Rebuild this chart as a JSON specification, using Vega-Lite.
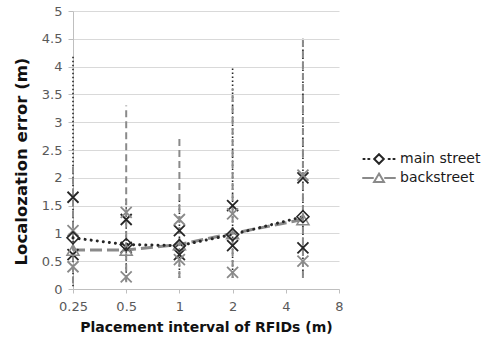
{
  "$schema": "https://vega.github.io/schema/vega-lite/v6.json",
  "autosize": {"type": "none"},
  "padding": {"left": 73, "top": 11, "right": 150, "bottom": 55},
  "width": 266,
  "height": 278,
  "background": "white",
  "config": {
    "font": "DejaVu Sans",
    "view": {"stroke": null},
    "axis": {"labelFont": "DejaVu Sans", "titleFont": "DejaVu Sans"},
    "axisY": {"labelOverlap": false, "labelFlush": false, "labelBound": false}
  },
  "data": {
    "values": [
      {"x": 0.25, "series": "main street", "mean": 0.92, "lo": 0.62, "hi": 1.65, "min": 0.05, "max": 4.2},
      {"x": 0.5, "series": "main street", "mean": 0.8, "lo": 0.75, "hi": 1.25, "min": 0.15, "max": 1.65},
      {"x": 1, "series": "main street", "mean": 0.78, "lo": 0.62, "hi": 1.05, "min": 0.2, "max": 1.6},
      {"x": 2, "series": "main street", "mean": 0.98, "lo": 0.78, "hi": 1.5, "min": 0.2, "max": 4.0},
      {"x": 5, "series": "main street", "mean": 1.3, "lo": 0.74, "hi": 2.0, "min": 0.25, "max": 4.5},
      {"x": 0.25, "series": "backstreet", "mean": 0.7, "lo": 0.4, "hi": 1.05, "min": 0.1, "max": 2.2},
      {"x": 0.5, "series": "backstreet", "mean": 0.7, "lo": 0.22, "hi": 1.38, "min": 0.12, "max": 3.3},
      {"x": 1, "series": "backstreet", "mean": 0.8, "lo": 0.53, "hi": 1.25, "min": 0.2, "max": 2.7},
      {"x": 2, "series": "backstreet", "mean": 1.0, "lo": 0.3, "hi": 1.35, "min": 0.2, "max": 3.6},
      {"x": 5, "series": "backstreet", "mean": 1.25, "lo": 0.5, "hi": 2.05, "min": 0.2, "max": 4.5}
    ]
  },
  "encoding": {
    "x": {
      "field": "x", "type": "quantitative",
      "scale": {"type": "log", "base": 2, "domain": [0.25, 8], "nice": false},
      "axis": {
        "values": [0.25, 0.5, 1, 2, 4, 8],
        "labelExpr": "datum.value + ''",
        "labelFlush": false, "labelOverlap": false,
        "grid": false,
        "domainColor": "#bfbfbf", "tickColor": "#bfbfbf", "tickSize": 4,
        "labelColor": "#595959", "labelFontSize": 13, "labelPadding": 7,
        "title": "Placement interval of RFIDs (m)",
        "titleFontSize": 14, "titleFontWeight": "bold", "titleColor": "#111111", "titlePadding": 7
      }
    },
    "y": {
      "field": "mean", "type": "quantitative",
      "scale": {"domain": [0, 5], "nice": false},
      "axis": {
        "values": [0, 0.5, 1, 1.5, 2, 2.5, 3, 3.5, 4, 4.5, 5],
        "format": "~g",
        "labelOverlap": false,
        "grid": true, "gridColor": "#d9d9d9",
        "domainColor": "#bfbfbf", "tickColor": "#bfbfbf", "tickSize": 5,
        "labelColor": "#595959", "labelFontSize": 13, "labelPadding": 6,
        "title": "Localozation error (m)",
        "titleFontSize": 16.5, "titleFontWeight": "bold", "titleColor": "#111111", "titlePadding": 12, "titleY": 150
      }
    },
    "color": {
      "field": "series", "type": "nominal",
      "scale": {"domain": ["main street", "backstreet"], "range": ["#262626", "#8a8a8a"]},
      "legend": {
        "orient": "none", "legendX": 297, "legendY": 139,
        "title": null, "symbolSize": 256, "labelOffset": 12,
        "labelFontSize": 14, "labelColor": "#1a1a1a", "labelFont": "DejaVu Sans",
        "rowPadding": 1, "padding": 0,
        "encode": {
          "symbols": {
            "update": {
              "shape": {"signal": "datum.value === 'main street' ? 'M-1.95,0L-1.8,0M-1.35,0L-1.2,0M1.2,0L1.35,0M1.8,0L1.95,0M0,-0.6L0.6,0L0,0.6L-0.6,0Z' : 'M-2,0L-0.75,0M0.75,0L2,0M0,-0.55L0.62,0.5L-0.62,0.5Z'"},
              "fill": {"value": "transparent"},
              "strokeWidth": {"value": 2},
              "strokeCap": {"value": "round"}
            }
          }
        }
      }
    }
  },
  "layer": [
    {
      "transform": [{"filter": "datum.series === 'main street'"}],
      "mark": {"type": "rule", "strokeWidth": 1.6, "strokeDash": [1.5, 2.5]},
      "encoding": {
        "y": {"field": "min", "type": "quantitative", "axis": {"values": [0, 0.5, 1, 1.5, 2, 2.5, 3, 3.5, 4, 4.5, 5], "format": "~g", "labelOverlap": false, "grid": true, "gridColor": "#d9d9d9", "domainColor": "#bfbfbf", "tickColor": "#bfbfbf", "tickSize": 5, "labelColor": "#595959", "labelFontSize": 13, "labelPadding": 6, "title": "Localozation error (m)", "titleFontSize": 16.5, "titleFontWeight": "bold", "titleColor": "#111111", "titlePadding": 12, "titleY": 150}},
        "y2": {"field": "max"}
      }
    },
    {
      "transform": [{"filter": "datum.series === 'backstreet'"}],
      "mark": {"type": "rule", "strokeWidth": 2, "strokeDash": [7, 4]},
      "encoding": {
        "y": {"field": "min", "type": "quantitative", "axis": {"values": [0, 0.5, 1, 1.5, 2, 2.5, 3, 3.5, 4, 4.5, 5], "format": "~g", "labelOverlap": false, "grid": true, "gridColor": "#d9d9d9", "domainColor": "#bfbfbf", "tickColor": "#bfbfbf", "tickSize": 5, "labelColor": "#595959", "labelFontSize": 13, "labelPadding": 6, "title": "Localozation error (m)", "titleFontSize": 16.5, "titleFontWeight": "bold", "titleColor": "#111111", "titlePadding": 12, "titleY": 150}},
        "y2": {"field": "max"}
      }
    },
    {
      "transform": [{"filter": "datum.series === 'backstreet'"}],
      "mark": {"type": "line", "strokeWidth": 3, "strokeDash": [12, 5]}
    },
    {
      "transform": [{"filter": "datum.series === 'main street'"}],
      "mark": {"type": "line", "strokeWidth": 3, "strokeCap": "round", "strokeDash": [0.1, 6]}
    },
    {
      "mark": {"type": "point", "shape": "M-1,-1L1,1M-1,1L1,-1", "filled": false, "size": 121, "strokeWidth": 1.8, "opacity": 1},
      "encoding": {"y": {"field": "lo", "type": "quantitative", "axis": {"values": [0, 0.5, 1, 1.5, 2, 2.5, 3, 3.5, 4, 4.5, 5], "format": "~g", "labelOverlap": false, "grid": true, "gridColor": "#d9d9d9", "domainColor": "#bfbfbf", "tickColor": "#bfbfbf", "tickSize": 5, "labelColor": "#595959", "labelFontSize": 13, "labelPadding": 6, "title": "Localozation error (m)", "titleFontSize": 16.5, "titleFontWeight": "bold", "titleColor": "#111111", "titlePadding": 12, "titleY": 150}}}
    },
    {
      "mark": {"type": "point", "shape": "M-1,-1L1,1M-1,1L1,-1", "filled": false, "size": 121, "strokeWidth": 1.8, "opacity": 1},
      "encoding": {"y": {"field": "hi", "type": "quantitative", "axis": {"values": [0, 0.5, 1, 1.5, 2, 2.5, 3, 3.5, 4, 4.5, 5], "format": "~g", "labelOverlap": false, "grid": true, "gridColor": "#d9d9d9", "domainColor": "#bfbfbf", "tickColor": "#bfbfbf", "tickSize": 5, "labelColor": "#595959", "labelFontSize": 13, "labelPadding": 6, "title": "Localozation error (m)", "titleFontSize": 16.5, "titleFontWeight": "bold", "titleColor": "#111111", "titlePadding": 12, "titleY": 150}}}
    },
    {
      "transform": [{"filter": "datum.series === 'backstreet'"}],
      "mark": {"type": "point", "shape": "triangle-up", "filled": false, "size": 144, "strokeWidth": 1.6, "opacity": 1}
    },
    {
      "transform": [{"filter": "datum.series === 'main street'"}],
      "mark": {"type": "point", "shape": "diamond", "filled": false, "size": 144, "strokeWidth": 1.6, "opacity": 1}
    }
  ]
}
